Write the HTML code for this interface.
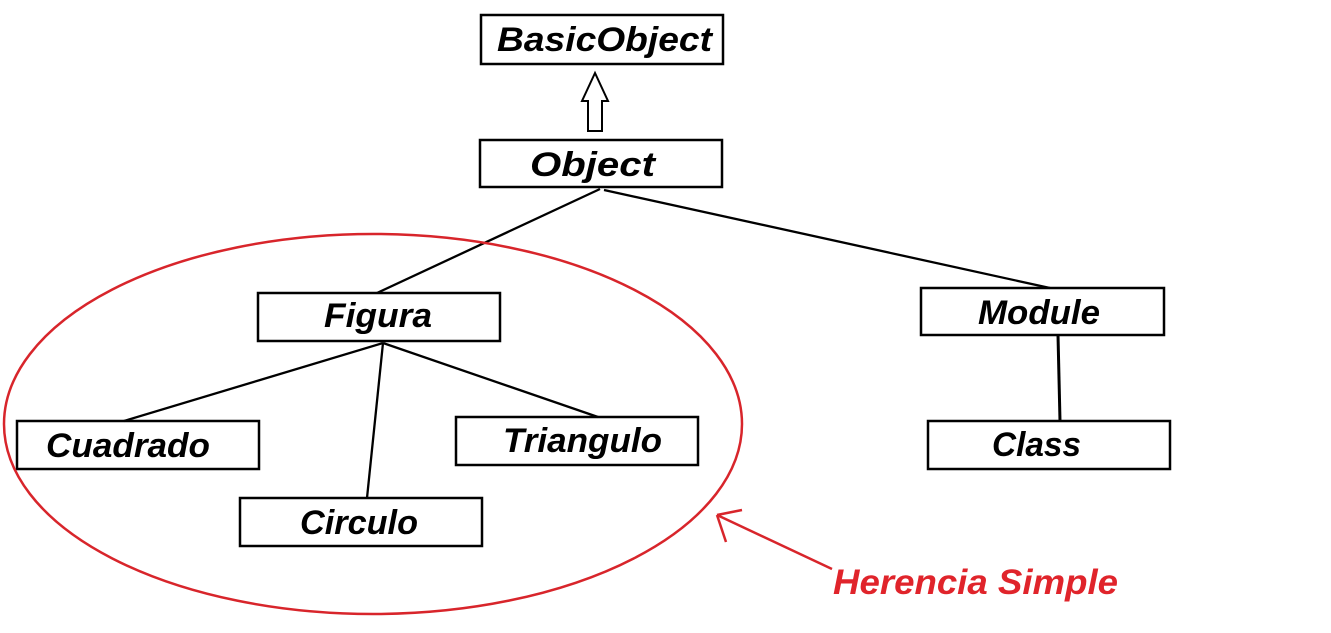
<!DOCTYPE html>
<html><head><meta charset="utf-8"><style>
html,body{margin:0;padding:0;background:#fff;width:1331px;height:633px;overflow:hidden}
svg{display:block}
text{font-family:"Liberation Sans",sans-serif;font-weight:bold;font-style:italic;font-size:34px;fill:#000}
</style></head><body>
<svg width="1331" height="633" viewBox="0 0 1331 633" xmlns="http://www.w3.org/2000/svg">
<g fill="#fff" stroke="#000" stroke-width="2.5">
<rect x="481" y="15" width="242" height="49"/>
<rect x="480" y="140" width="242" height="47"/>
<rect x="258" y="293" width="242" height="48"/>
<rect x="921" y="288" width="243" height="47"/>
<rect x="17" y="421" width="242" height="48"/>
<rect x="456" y="417" width="242" height="48"/>
<rect x="240" y="498" width="242" height="48"/>
<rect x="928" y="421" width="242" height="48"/>
<polygon points="595,73 582,101 588,101 588,131 602,131 602,101 608,101" stroke-width="2"/>
</g>
<g stroke="#000" stroke-width="2.3" fill="none">
<line x1="600" y1="189" x2="377" y2="293"/>
<line x1="604" y1="190" x2="1050" y2="288"/>
<line x1="383" y1="343" x2="124" y2="421"/>
<line x1="383" y1="343" x2="367" y2="498"/>
<line x1="383" y1="343" x2="598" y2="417"/>
<line x1="1058" y1="335" x2="1060" y2="421" stroke-width="3"/>
</g>
<g stroke="#d8252b" stroke-width="2.5" fill="none">
<ellipse cx="373" cy="424" rx="369" ry="190"/>
<line x1="832" y1="569" x2="717" y2="515"/>
<line x1="717" y1="515" x2="742" y2="510"/>
<line x1="717" y1="515" x2="726" y2="542"/>
</g>
<text x="497" y="51" textLength="215" lengthAdjust="spacingAndGlyphs">BasicObject</text>
<text x="530" y="176" textLength="125" lengthAdjust="spacingAndGlyphs">Object</text>
<text x="324" y="327" textLength="108" lengthAdjust="spacingAndGlyphs">Figura</text>
<text x="978" y="324" textLength="122" lengthAdjust="spacingAndGlyphs">Module</text>
<text x="46" y="457" textLength="164" lengthAdjust="spacingAndGlyphs">Cuadrado</text>
<text x="503" y="452" textLength="159" lengthAdjust="spacingAndGlyphs">Triangulo</text>
<text x="300" y="534" textLength="118" lengthAdjust="spacingAndGlyphs">Circulo</text>
<text x="992" y="456" textLength="89" lengthAdjust="spacingAndGlyphs">Class</text>
<text x="833" y="594" textLength="285" lengthAdjust="spacingAndGlyphs" style="fill:#e0242b;font-size:35px">Herencia Simple</text>
</svg>
</body></html>
